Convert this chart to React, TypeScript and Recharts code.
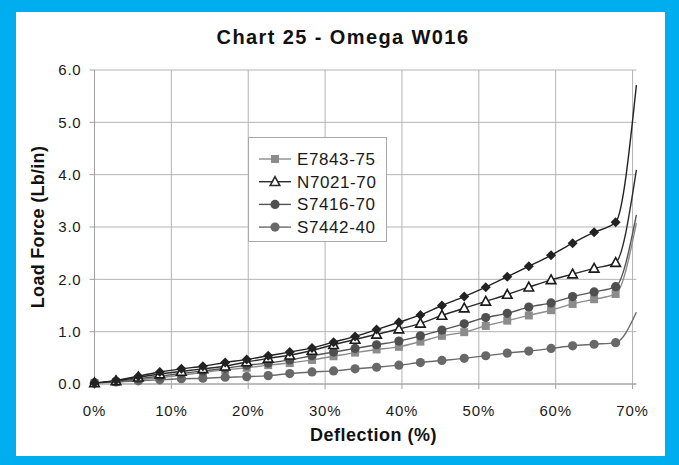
import React from "react";
import { LineChart, Line, XAxis, YAxis, CartesianGrid, Legend } from "recharts";

const DEFLECTION = [0, 0.028, 0.057, 0.085, 0.113, 0.141, 0.17, 0.198, 0.226, 0.254, 0.283, 0.311, 0.339, 0.367, 0.396, 0.424, 0.452, 0.481, 0.509, 0.537, 0.565, 0.594, 0.622, 0.65, 0.678, 0.705];
const E7843_75 = [0.02, 0.04, 0.08, 0.12, 0.17, 0.22, 0.27, 0.31, 0.36, 0.4, 0.46, 0.53, 0.6, 0.66, 0.71, 0.81, 0.92, 0.99, 1.11, 1.21, 1.31, 1.41, 1.53, 1.62, 1.72, 3.08];
const N7021_70 = [0.02, 0.06, 0.13, 0.19, 0.24, 0.29, 0.34, 0.42, 0.49, 0.55, 0.64, 0.75, 0.85, 0.95, 1.05, 1.16, 1.31, 1.45, 1.58, 1.71, 1.85, 1.99, 2.1, 2.21, 2.32, 4.09];
const S7416_70 = [0.02, 0.05, 0.1, 0.15, 0.2, 0.25, 0.3, 0.36, 0.4, 0.46, 0.54, 0.61, 0.68, 0.75, 0.82, 0.92, 1.03, 1.15, 1.27, 1.35, 1.47, 1.55, 1.67, 1.76, 1.86, 3.23];
const S7442_40 = [0.02, 0.04, 0.06, 0.08, 0.1, 0.11, 0.13, 0.14, 0.16, 0.2, 0.23, 0.25, 0.29, 0.32, 0.36, 0.41, 0.45, 0.49, 0.54, 0.59, 0.63, 0.68, 0.73, 0.76, 0.79, 1.37];
const UNLABELED = [0.02, 0.07, 0.15, 0.23, 0.29, 0.34, 0.41, 0.47, 0.54, 0.61, 0.69, 0.8, 0.91, 1.04, 1.18, 1.32, 1.5, 1.67, 1.85, 2.05, 2.25, 2.46, 2.69, 2.9, 3.09, 5.71];

const X_TICKS = [0, 0.1, 0.2, 0.3, 0.4, 0.5, 0.6, 0.7];
const Y_TICKS = [0, 1, 2, 3, 4, 5, 6];

const data = DEFLECTION.map((d, i) => ({
  d,
  e: E7843_75[i],
  n: N7021_70[i],
  s16: S7416_70[i],
  s42: S7442_40[i],
  u: UNLABELED[i],
}));

const LAST = DEFLECTION.length - 1;
const FONT = '"Liberation Sans", Arial, sans-serif';

type Shape = "square" | "triangle" | "circle" | "diamond";

function Marker({ shape, cx, cy, fill, stroke }: { shape: Shape; cx: number; cy: number; fill: string; stroke: string }) {
  if (shape === "square") return <rect x={cx - 4} y={cy - 4} width={8} height={8} fill={fill} stroke="none" />;
  if (shape === "circle") return <circle cx={cx} cy={cy} r={4.6} fill={fill} stroke="none" />;
  if (shape === "diamond")
    return <polygon points={`${cx},${cy - 5} ${cx + 5},${cy} ${cx},${cy + 5} ${cx - 5},${cy}`} fill={fill} stroke="none" />;
  return (
    <polygon
      points={`${cx},${cy - 5} ${cx + 4.8},${cy + 3.8} ${cx - 4.8},${cy + 3.8}`}
      fill="#ffffff"
      stroke={stroke}
      strokeWidth={1.6}
    />
  );
}

const makeDot = (shape: Shape, fill: string, stroke: string) => (props: any) => {
  const { cx, cy, index } = props;
  if (index === LAST || cx == null || cy == null) return <g key={`n-${index}`} />;
  return (
    <g key={`d-${index}`}>
      <Marker shape={shape} cx={cx} cy={cy} fill={fill} stroke={stroke} />
    </g>
  );
};

const LEGEND_ITEMS: { label: string; shape: Shape; line: string; fill: string }[] = [
  { label: "E7843-75", shape: "square", line: "#8c8c8c", fill: "#8c8c8c" },
  { label: "N7021-70", shape: "triangle", line: "#2a2a2a", fill: "#2a2a2a" },
  { label: "S7416-70", shape: "circle", line: "#555555", fill: "#4f4f4f" },
  { label: "S7442-40", shape: "circle", line: "#6a6a6a", fill: "#686868" },
];

const LegendBox = () => (
  <svg width={140} height={106} style={{ display: "block" }}>
    <rect x={0.5} y={0.5} width={138} height={104} fill="#ffffff" stroke="#a8a8a8" />
    {LEGEND_ITEMS.map((it, i) => {
      const y = 22 + i * 22.7;
      return (
        <g key={it.label}>
          <line x1={11} x2={43} y1={y} y2={y} stroke={it.line} strokeWidth={1.4} />
          <Marker shape={it.shape} cx={27} cy={y} fill={it.fill} stroke={it.line} />
          <text x={49} y={y + 6} fontFamily={FONT} fontSize={17} fill="#1a1a1a" letterSpacing={0.6}>
            {it.label}
          </text>
        </g>
      );
    })}
  </svg>
);

export default function App() {
  return (
    <div style={{ position: "absolute", left: 0, top: 0, width: 679, height: 465, background: "#00aeef" }}>
      <div style={{ position: "absolute", left: 16, top: 12, width: 649, height: 444, background: "#ffffff" }} />
      <div
        style={{
          position: "absolute",
          left: 0,
          top: 26,
          width: 686,
          textAlign: "center",
          fontFamily: FONT,
          fontWeight: "bold",
          fontSize: 20,
          letterSpacing: 1.4,
          color: "#111",
        }}
      >
        Chart 25 - Omega W016
      </div>
      <div style={{ position: "absolute", left: 0, top: 0 }}>
        <LineChart width={679} height={465} data={data} margin={{ top: 70, right: 42.6, bottom: 51, left: 34.5 }}>
          <CartesianGrid stroke="#b4b4b4" strokeWidth={1} verticalValues={X_TICKS} horizontalValues={Y_TICKS} />
          <XAxis
            dataKey="d"
            type="number"
            domain={[0, "dataMax"]}
            ticks={X_TICKS}
            tickFormatter={(v: number) => `${Math.round(v * 100)}%`}
            height={30}
            stroke="#a0a0a0"
            tickSize={5}
            tick={{ fill: "#1a1a1a", fontSize: 15, fontFamily: FONT, letterSpacing: 0.8 }}
            tickMargin={16}
            label={{
              value: "Deflection (%)",
              position: "insideBottom",
              offset: -27,
              dx: 8,
              style: { fontFamily: FONT, fontWeight: "bold", fontSize: 18, fill: "#111", letterSpacing: 0.5 },
            }}
          />
          <YAxis
            type="number"
            domain={[0, 6]}
            ticks={Y_TICKS}
            tickFormatter={(v: number) => v.toFixed(1)}
            width={60}
            stroke="#a0a0a0"
            tickSize={5}
            tickMargin={8}
            tick={{ fill: "#1a1a1a", fontSize: 15, fontFamily: FONT, letterSpacing: 0.8 }}
            label={{
              value: "Load Force (Lb/in)",
              angle: -90,
              position: "insideLeft",
              offset: 0,
              dx: 3,
              dy: 0,
              style: { textAnchor: "middle", fontFamily: FONT, fontWeight: "bold", fontSize: 18, fill: "#111", letterSpacing: 0.3 },
            }}
          />
          <Legend
            layout="horizontal"
            align="center"
            verticalAlign="middle"
            content={() => <LegendBox />}
            wrapperStyle={{ position: "absolute", left: 248, top: 137, width: 140, height: 106 }}
          />
          <Line
            type="monotone"
            dataKey="e"
            name="E7843-75"
            stroke="#8c8c8c"
            strokeWidth={1.4}
            dot={makeDot("square", "#8c8c8c", "#8c8c8c")}
            activeDot={false}
            isAnimationActive={false}
          />
          <Line
            type="monotone"
            dataKey="s42"
            name="S7442-40"
            stroke="#6a6a6a"
            strokeWidth={1.4}
            dot={makeDot("circle", "#686868", "#686868")}
            activeDot={false}
            isAnimationActive={false}
          />
          <Line
            type="monotone"
            dataKey="s16"
            name="S7416-70"
            stroke="#555555"
            strokeWidth={1.4}
            dot={makeDot("circle", "#4f4f4f", "#4f4f4f")}
            activeDot={false}
            isAnimationActive={false}
          />
          <Line
            type="monotone"
            dataKey="n"
            name="N7021-70"
            stroke="#2a2a2a"
            strokeWidth={1.4}
            dot={makeDot("triangle", "#2a2a2a", "#1a1a1a")}
            activeDot={false}
            isAnimationActive={false}
          />
          <Line
            type="monotone"
            dataKey="u"
            name="Unlabeled"
            legendType="none"
            stroke="#222222"
            strokeWidth={1.4}
            dot={makeDot("diamond", "#222222", "#222222")}
            activeDot={false}
            isAnimationActive={false}
          />
        </LineChart>
      </div>
    </div>
  );
}
